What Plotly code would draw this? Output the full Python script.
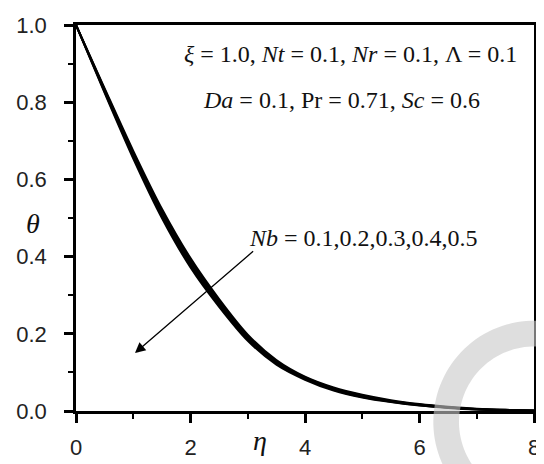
import numpy as np
from plotly import graph_objects as go

# temperature profiles theta(eta) for several Nb values
eta = [0, 0.5, 1.0, 1.5, 2.0, 2.5, 3.0, 3.5, 4.0, 4.5, 5.0, 5.5, 6.0, 6.5, 7.0, 7.5, 8.0]
theta_nb01 = [1.000, 0.836, 0.674, 0.524, 0.396, 0.290, 0.198, 0.132, 0.089, 0.061, 0.042, 0.028, 0.018, 0.011, 0.006, 0.003, 0.001]
theta_nb02 = [1.000, 0.833, 0.669, 0.518, 0.390, 0.285, 0.194, 0.129, 0.087, 0.059, 0.040, 0.026, 0.017, 0.010, 0.005, 0.003, 0.001]
theta_nb03 = [1.000, 0.830, 0.664, 0.512, 0.384, 0.280, 0.190, 0.126, 0.085, 0.057, 0.038, 0.025, 0.016, 0.009, 0.005, 0.002, 0.001]
theta_nb04 = [1.000, 0.827, 0.659, 0.506, 0.378, 0.275, 0.186, 0.123, 0.083, 0.055, 0.036, 0.024, 0.015, 0.009, 0.004, 0.002, 0.000]
theta_nb05 = [1.000, 0.824, 0.654, 0.500, 0.372, 0.270, 0.182, 0.120, 0.081, 0.053, 0.035, 0.023, 0.014, 0.008, 0.004, 0.002, 0.000]
nb_values = [0.1, 0.2, 0.3, 0.4, 0.5]

x_ticks = [0, 2, 4, 6, 8]
y_ticks = [0.0, 0.2, 0.4, 0.6, 0.8, 1.0]

# page body has an 8px margin, so the figure is a bit smaller than the window
W, H = 536, 456
L, R, T, B = 68, 4, 17, 50
# plot area as seen in the window
SL, SR, ST, SB = 76, 540, 25, 414

fig = go.Figure()
for nb, th in zip(nb_values, [theta_nb01, theta_nb02, theta_nb03, theta_nb04, theta_nb05]):
    fig.add_trace(go.Scatter(x=eta, y=th, mode='lines', name=f"Nb={nb}",
                             line=dict(color='black', width=2, shape='spline', smoothing=0.8)))

serif = "Liberation Serif, Times New Roman, serif"
sans = "Liberation Sans, Arial, sans-serif"

axis_common = dict(showline=True, linewidth=2.5, linecolor='black', mirror=True,
                   ticks='outside', ticklen=9, tickwidth=2.5, tickcolor='black',
                   showgrid=False, zeroline=False,
                   tickfont=dict(family=sans, size=22, color='#222'),
                   minor=dict(ticks='outside', ticklen=5, tickwidth=2, tickcolor='black'))

fig.update_xaxes(range=[0, 8], tickvals=x_ticks, ticktext=[str(v) for v in x_ticks],
                 ticklabelstandoff=6, minor_dtick=1, **axis_common)
fig.update_yaxes(range=[0, 1], tickvals=y_ticks, ticktext=[f"{v:.1f}" for v in y_ticks],
                 ticklabelstandoff=13, minor_dtick=0.1, **axis_common)


def px2paper(px, py):
    return (px - SL) / (SR - SL), (SB - py) / (SB - ST)


# faint circular watermark
ang = np.radians(np.linspace(75, 240, 60))
cx, cy, ro, ri = 540, 425, 102, 76
outer = [px2paper(cx + ro * np.cos(a), cy - ro * np.sin(a)) for a in ang]
inner = [px2paper(cx + ri * np.cos(a), cy - ri * np.sin(a)) for a in ang[::-1]]
pts = outer + inner
path = "M " + " L ".join(f"{x:.4f},{y:.4f}" for x, y in pts) + " Z"
fig.add_shape(type='path', path=path, xref='paper', yref='paper',
              fillcolor='rgba(200,200,200,0.6)', line=dict(width=0), layer='above')


def label(text, x, y, size):
    fig.add_annotation(text=text, xref='paper', yref='paper', x=x, y=y,
                       xanchor='center', yanchor='middle', showarrow=False,
                       font=dict(family=serif, size=size, color='#111'))


label("<i>ξ</i> = 1.0, <i>Nt</i> = 0.1, <i>Nr</i> = 0.1, Λ = 0.1", 0.599, 0.925, 24)
label("<i>Da</i> = 0.1, Pr = 0.71, <i>Sc</i> = 0.6", 0.580, 0.805, 24)
label("<i>Nb</i> = 0.1,0.2,0.3,0.4,0.5", 0.627, 0.447, 24)
label("<i>θ</i>", -0.093, 0.486, 28)
label("<i>η</i>", 0.401, -0.077, 28)

fig.add_annotation(x=1.03, y=0.15, ax=3.12, ay=0.417, xref='x', yref='y',
                   axref='x', ayref='y', text="", showarrow=True,
                   arrowhead=2, arrowsize=1.6, arrowwidth=1.3, arrowcolor='black')

fig.update_layout(width=W, height=H, margin=dict(l=L, r=R, t=T, b=B),
                  plot_bgcolor='white', paper_bgcolor='white', showlegend=False)

fig.write_html("out.html")
